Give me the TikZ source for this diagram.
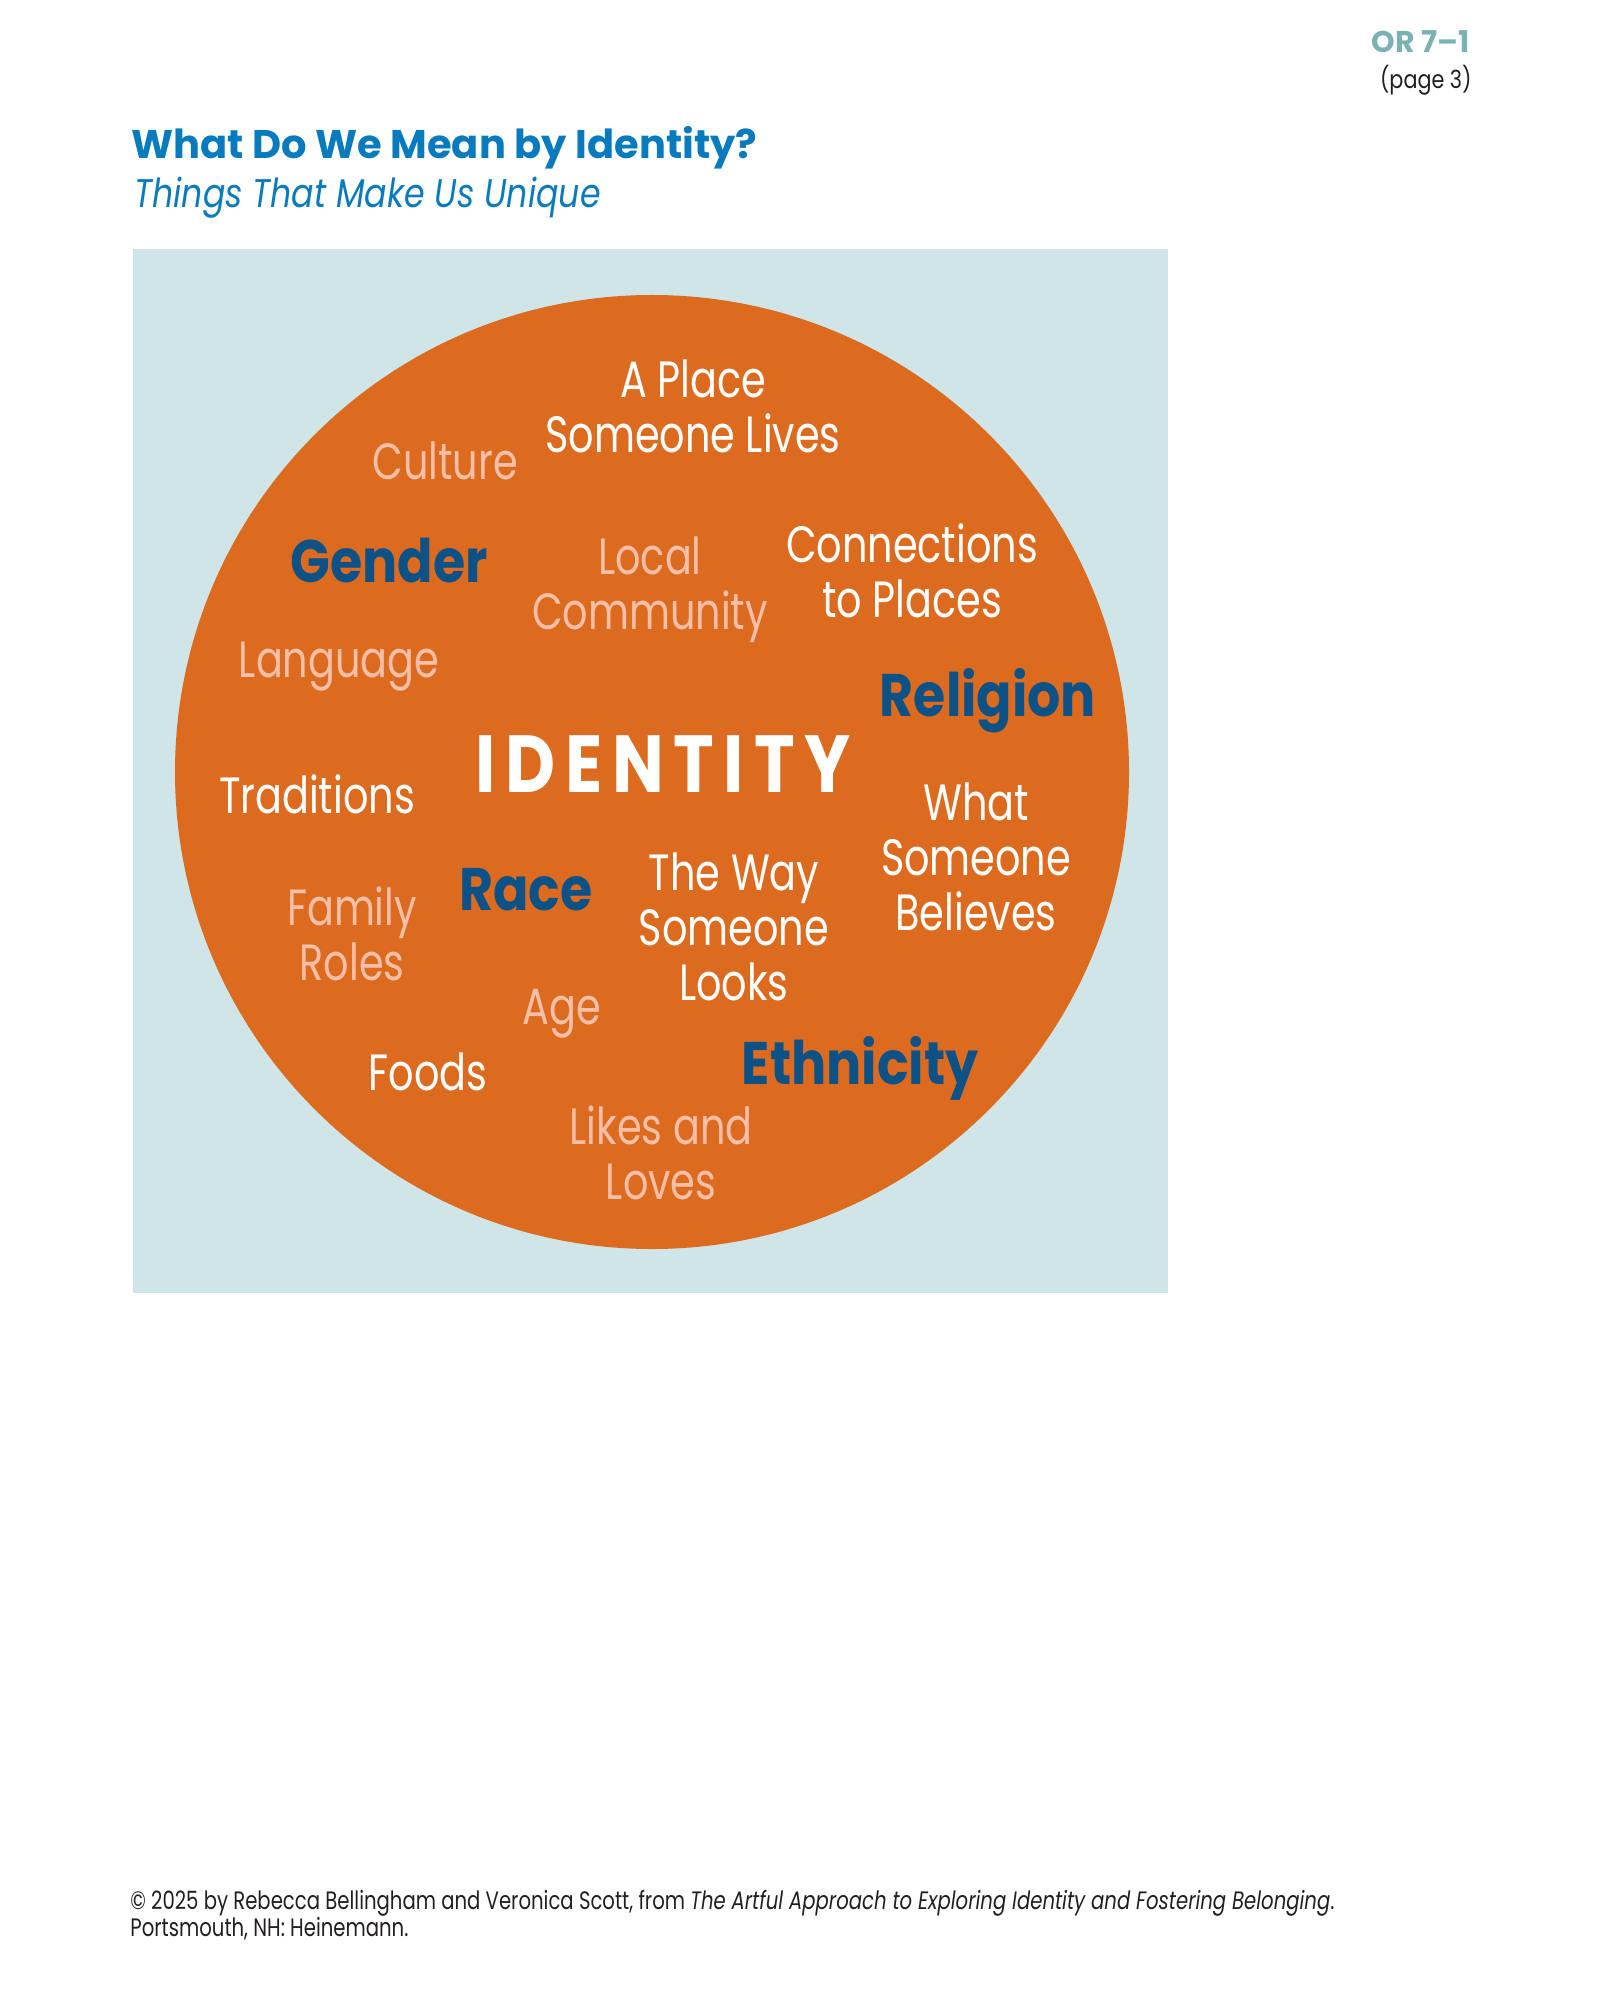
\documentclass[tikz,border=0pt]{standalone}
\usepackage{fontspec}
\setmainfont{Poppins}[FakeStretch=0.78]
\newfontfamily\widefont{Poppins}[FakeStretch=1.0]
\newfontfamily\subfont{Poppins}[FakeStretch=0.83]
\newfontfamily\heavyfont{Poppins}[FakeStretch=0.87]
\newfontfamily\spacedfont{Poppins}[FakeStretch=0.85,LetterSpace=12]

\definecolor{boxblue}{RGB}{208,229,232}
\definecolor{circorange}{RGB}{220,107,32}
\definecolor{wordblue}{RGB}{12,82,135}
\definecolor{wordpink}{RGB}{247,190,168}
\definecolor{titleblue}{RGB}{8,122,190}
\definecolor{orteal}{RGB}{122,178,180}
\definecolor{footgray}{RGB}{35,31,32}

\tikzset{
  whitetxt/.style={text=white, align=center, anchor=base, inner sep=0pt,
    font=\fontsize{25.5}{27.5}\selectfont},
  pinktxt/.style={whitetxt, text=wordpink},
  bluetxt/.style={text=wordblue, anchor=base, inner sep=0pt,
    font=\fontsize{30}{33}\heavyfont\bfseries}
}

\begin{document}
\begin{tikzpicture}[x=0.5pt,y=-0.5pt]
    \useasboundingbox (0,0) rectangle (1600,2000);

    % 页眉
    \node[anchor=base east, inner sep=0pt, text=orteal,
      font=\fontsize{15}{17}\widefont\bfseries] (orno) at (1470,53) {OR 7–1};
    \node[anchor=base east, inner sep=0pt, text=footgray,
      font=\fontsize{12.5}{14}\subfont] (pageno) at (1472,89) {(page 3)};

    % 标题
    \node[anchor=base west, inner sep=0pt, text=titleblue,
      font=\fontsize{20}{22}\widefont\bfseries] (title) at (131,159)
      {What Do We Mean by Identity?};
    \node[anchor=base west, inner sep=0pt, text=titleblue,
      font=\fontsize{20}{22}\subfont\itshape] (subtitle) at (134,208)
      {Things That Make Us Unique};

    % 背景和圆
    \fill[boxblue] (133,249) rectangle (1168,1293);
    \fill[circorange] (652,772) circle (477);

    % 中心词
    \node[anchor=base, inner sep=0pt, text=white,
      font=\fontsize{40.5}{44}\spacedfont\bfseries] (identity) at (663,792) {IDENTITY};

    % 白色词语 (y = 最后一行的基线)
    \node[whitetxt] (aplace) at (693,452) {A Place\\Someone Lives};
    \node[whitetxt] (connect) at (912,617) {Connections\\to Places};
    \node[whitetxt] (tradition) at (317,813) {Traditions};
    \node[whitetxt] (believe) at (976,930) {What\\Someone\\Believes};
    \node[whitetxt] (looks) at (734,1000) {The Way\\Someone\\Looks};
    \node[whitetxt] (foods) at (428,1090) {Foods};

    % 粉色词语
    \node[pinktxt] (culture) at (445,480) {Culture};
    \node[pinktxt] (local) at (650,629) {Local\\Community};
    \node[pinktxt] (language) at (339,677) {Language};
    \node[pinktxt] (family) at (352,980) {Family\\Roles};
    \node[pinktxt] (age) at (562,1024) {Age};
    \node[pinktxt] (likes) at (661,1199) {Likes and\\Loves};

    % 蓝色粗体词语
    \node[bluetxt] (gender) at (389,582) {Gender};
    \node[bluetxt] (religion) at (988,716) {Religion};
    \node[bluetxt] (race) at (526,910) {Race};
    \node[bluetxt] (ethnic) at (860,1084) {Ethnicity};

    % 版权说明
    \node[anchor=base west, inner sep=0pt, align=left, text=footgray,
      font=\fontsize{12.6}{13.5}\selectfont] (credit) at (130,1936)
      {© 2025 by Rebecca Bellingham and Veronica Scott, from \textit{The Artful Approach to Exploring Identity and Fostering Belonging}.\\
       Portsmouth, NH: Heinemann.};
\end{tikzpicture}
\end{document}
